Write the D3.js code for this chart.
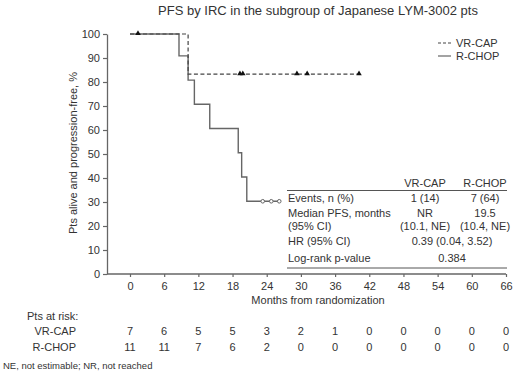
<!DOCTYPE html>
<html>
<head>
<meta charset="utf-8">
<script src="https://cdn.jsdelivr.net/npm/d3@7"></script>
<style>
  body { margin: 0; background: #fff; }
  text { font-family: "Liberation Sans", Arial, sans-serif; fill: #333; }
</style>
</head>
<body>
<div id="chart"></div>
<script>
// months on x axis
var months = [0, 6, 12, 18, 24, 30, 36, 42, 48, 54, 60, 66];
// KM steps
var vrcapTimes = [0, 10.2, 40.2];
var vrcapSurv = [100, 83.3, 83.3];
var rchopTimes = [0, 8.6, 10.2, 11.3, 14.0, 19.0, 19.6, 20.5, 26.2];
var rchopSurv = [100, 90.9, 80.8, 70.7, 60.6, 50.5, 40.4, 30.3, 30.3];
// censored times
var vrcapCensor = [1.4, 19.3, 19.8, 29.3, 31.1, 40.2];
var rchopCensor = [23.3, 24.8, 26.2];
// patients at risk
var vrcapRisk = [7, 6, 5, 5, 3, 2, 1, 0, 0, 0, 0, 0];
var rchopRisk = [11, 11, 7, 6, 2, 0, 0, 0, 0, 0, 0, 0];
var yTicks = [0, 10, 20, 30, 40, 50, 60, 70, 80, 90, 100];
// summary table
var tableHead = ['VR-CAP', 'R-CHOP'];
var tableRows = [
  ['Events, n (%)', '1 (14)', '7 (64)'],
  ['Median PFS, months', 'NR', '19.5'],
  ['(95% CI)', '(10.1, NE)', '(10.4, NE)'],
  ['HR (95% CI)', '0.39 (0.04, 3.52)'],
  ['Log-rank p-value', '0.384']
];

var svgWidth = 520, svgHeight = 373;
var svg = d3.select('#chart').append('svg')
  .attr('width', svgWidth)
  .attr('height', svgHeight);

var x = d3.scaleLinear().domain([0, 66]).range([130, 506]);
var y = d3.scaleLinear().domain([0, 100]).range([274, 34]);
var axisColor = '#666';

// title
svg.append('text')
  .attr('x', 318).attr('y', 15)
  .attr('text-anchor', 'middle')
  .attr('font-size', '13px')
  .text('PFS by IRC in the subgroup of Japanese LYM-3002 pts');

// y axis
var yAxisG = svg.append('g')
  .attr('transform', 'translate(107,0)')
  .call(d3.axisLeft(y).tickValues(yTicks).tickSize(4).tickSizeOuter(0).tickPadding(3));
yAxisG.select('.domain').attr('stroke', axisColor).attr('stroke-width', 1.3);
yAxisG.selectAll('line').attr('stroke', axisColor).attr('stroke-width', 1.2);
yAxisG.selectAll('text').attr('font-size', '11px').attr('fill', '#333')
  .attr('font-family', '"Liberation Sans", Arial, sans-serif');

svg.append('text')
  .attr('transform', 'translate(77,153) rotate(-90)')
  .attr('text-anchor', 'middle')
  .attr('font-size', '11px')
  .text('Pts alive and progression-free, %');

// x axis
var xAxisG = svg.append('g')
  .attr('transform', 'translate(0,274)')
  .call(d3.axisBottom(x).tickValues(months).tickSize(3).tickSizeOuter(0).tickPadding(5));
xAxisG.select('.domain').remove();
xAxisG.append('line')
  .attr('x1', 107).attr('x2', x(66))
  .attr('stroke', axisColor).attr('stroke-width', 1.3);
xAxisG.selectAll('.tick line').attr('stroke', axisColor).attr('stroke-width', 1.2);
xAxisG.selectAll('text').attr('font-size', '11px').attr('fill', '#333')
  .attr('font-family', '"Liberation Sans", Arial, sans-serif');

svg.append('text')
  .attr('x', 318).attr('y', 304)
  .attr('text-anchor', 'middle')
  .attr('font-size', '11px')
  .text('Months from randomization');

// KM curves
function steps(times, surv) {
  return times.map(function (t, i) { return [t, surv[i]]; });
}
var line = d3.line()
  .x(function (d) { return x(d[0]); })
  .y(function (d) { return y(d[1]); })
  .curve(d3.curveStepAfter);

svg.append('path')
  .datum(steps(rchopTimes, rchopSurv))
  .attr('d', line)
  .attr('fill', 'none')
  .attr('stroke', '#666')
  .attr('stroke-width', 1.4);

svg.append('path')
  .datum(steps(vrcapTimes, vrcapSurv))
  .attr('d', line)
  .attr('fill', 'none')
  .attr('stroke', '#444')
  .attr('stroke-width', 1.2)
  .attr('stroke-dasharray', '4,2.5');

// censor marks
function survAt(times, surv, t) {
  var v = surv[0];
  times.forEach(function (tt, i) { if (tt <= t) v = surv[i]; });
  return v;
}
var tri = d3.symbol().type(d3.symbolTriangle).size(13);
svg.selectAll('.cens-v').data(vrcapCensor).enter().append('path')
  .attr('d', tri)
  .attr('transform', function (d) {
    return 'translate(' + x(d) + ',' + (y(survAt(vrcapTimes, vrcapSurv, d)) - 0.5) + ')';
  })
  .attr('fill', '#111');

svg.selectAll('.cens-r').data(rchopCensor).enter().append('circle')
  .attr('cx', function (d) { return x(d); })
  .attr('cy', function (d) { return y(survAt(rchopTimes, rchopSurv, d)); })
  .attr('r', 1.8)
  .attr('fill', '#fff')
  .attr('stroke', '#666')
  .attr('stroke-width', 1);

// legend
var legend = [
  { name: 'VR-CAP', dash: '3,2', color: '#444', y: 43 },
  { name: 'R-CHOP', dash: null, color: '#666', y: 56 }
];
legend.forEach(function (d) {
  svg.append('line')
    .attr('x1', 438).attr('x2', 451)
    .attr('y1', d.y).attr('y2', d.y)
    .attr('stroke', d.color)
    .attr('stroke-width', 1.2)
    .attr('stroke-dasharray', d.dash);
  svg.append('text')
    .attr('x', 456).attr('y', d.y + 4)
    .attr('font-size', '11px')
    .text(d.name);
});

// summary table
var colX = [288, 425, 485];
var rowY = [202, 217, 230, 245, 262];
tableHead.forEach(function (h, i) {
  svg.append('text')
    .attr('x', colX[i + 1]).attr('y', 187)
    .attr('text-anchor', 'middle')
    .attr('font-size', '11px')
    .text(h);
});
svg.append('line')
  .attr('x1', 287).attr('x2', 507)
  .attr('y1', 190.5).attr('y2', 190.5)
  .attr('stroke', '#555').attr('stroke-width', 1);
svg.append('line')
  .attr('x1', 287).attr('x2', 507)
  .attr('y1', 268).attr('y2', 268)
  .attr('stroke', '#555').attr('stroke-width', 1);
tableRows.forEach(function (r, i) {
  svg.append('text')
    .attr('x', colX[0]).attr('y', rowY[i])
    .attr('font-size', '11px')
    .text(r[0]);
  if (r.length === 3) {
    svg.append('text').attr('x', colX[1]).attr('y', rowY[i])
      .attr('text-anchor', 'middle').attr('font-size', '11px').text(r[1]);
    svg.append('text').attr('x', colX[2]).attr('y', rowY[i])
      .attr('text-anchor', 'middle').attr('font-size', '11px').text(r[2]);
  } else {
    svg.append('text').attr('x', (colX[1] + colX[2]) / 2 - 3).attr('y', rowY[i])
      .attr('text-anchor', 'middle').attr('font-size', '11px').text(r[1]);
  }
});

// patients at risk
svg.append('text')
  .attr('x', 27).attr('y', 320)
  .attr('font-size', '11px')
  .text('Pts at risk:');
var riskRows = [
  { name: 'VR-CAP', vals: vrcapRisk, y: 335 },
  { name: 'R-CHOP', vals: rchopRisk, y: 351 }
];
riskRows.forEach(function (r) {
  svg.append('text')
    .attr('x', 76).attr('y', r.y)
    .attr('text-anchor', 'end')
    .attr('font-size', '11px')
    .text(r.name);
  svg.selectAll(null).data(r.vals).enter().append('text')
    .attr('x', function (d, i) { return x(months[i]); })
    .attr('y', r.y)
    .attr('text-anchor', 'middle')
    .attr('font-size', '11px')
    .text(function (d) { return d; });
});

svg.append('text')
  .attr('x', 3).attr('y', 369)
  .attr('font-size', '9.5px')
  .text('NE, not estimable; NR, not reached');
</script>
</body>
</html>
